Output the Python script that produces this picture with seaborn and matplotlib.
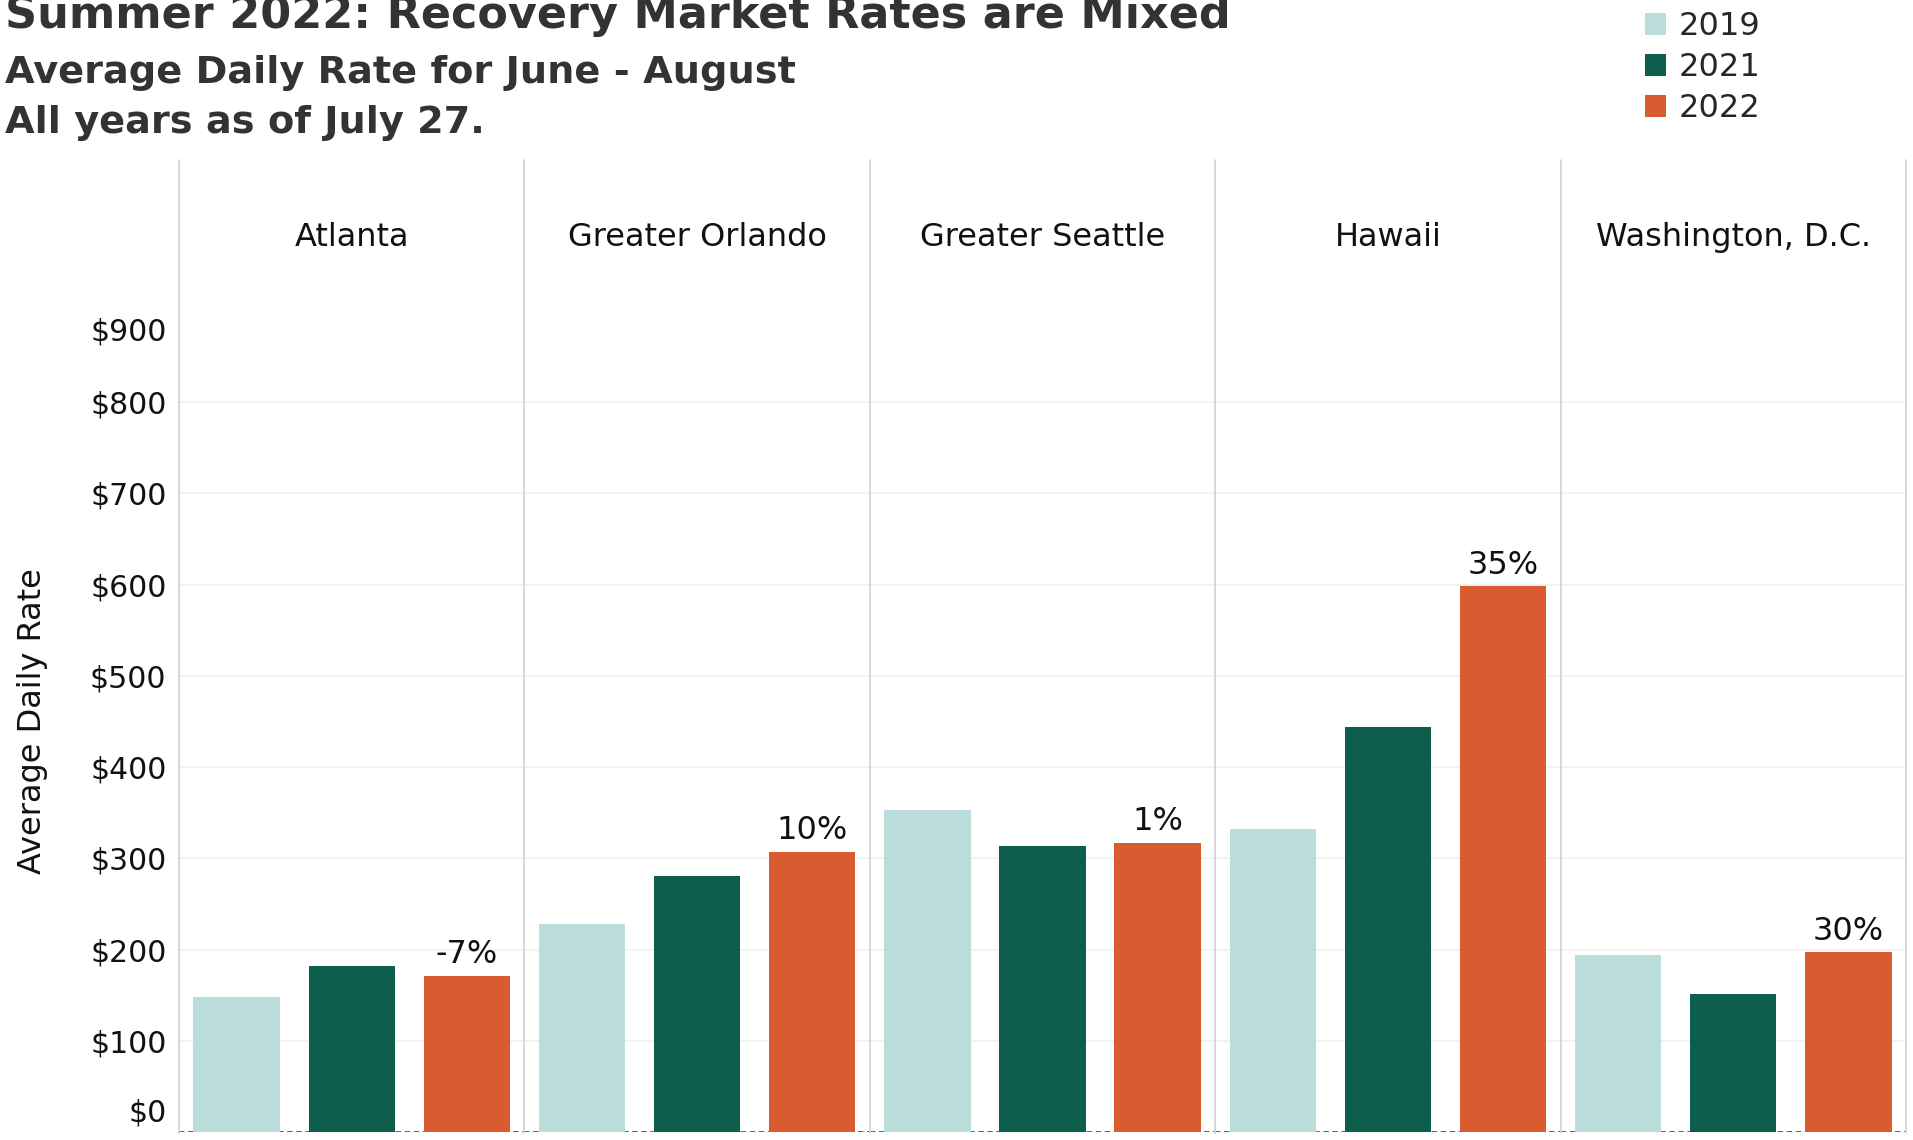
import matplotlib
matplotlib.use("Agg")
import matplotlib.pyplot as plt
from matplotlib.patches import Patch
from matplotlib.transforms import ScaledTranslation
import pandas as pd
import seaborn as sns

markets = ["Atlanta", "Greater Orlando", "Greater Seattle", "Hawaii", "Washington, D.C."]
years = ["2019", "2021", "2022"]
adr_2019 = [148, 228, 353, 332, 194]
adr_2021 = [182, 281, 313, 444, 151]
adr_2022 = [171, 307, 317, 598, 197]
change_labels = ["-7%", "10%", "1%", "35%", "30%"]
year_colors = ["#BBDEDD", "#0E5E4E", "#D95B32"]
y_ticks = [0, 100, 200, 300, 400, 500, 600, 700, 800, 900]

rows = []
for i, m in enumerate(markets):
    for y, vals in zip(years, [adr_2019, adr_2021, adr_2022]):
        rows.append({"Market": m, "Year": y, "ADR": vals[i]})
df = pd.DataFrame(rows)

sns.set_theme(style="white")
# the reference text is set wide, DejaVu Sans gets closest to it
plt.rcParams["font.family"] = ["DejaVu Sans"]

W, H = 1913, 1140
palette = dict(zip(years, year_colors))
fs = 21.5

g = sns.catplot(
    data=df, kind="bar", x="Year", y="ADR", hue="Year", col="Market",
    col_order=markets, order=years, hue_order=years, palette=palette,
    width=0.75, linewidth=0, saturation=1, legend=False, sharey=True,
    height=5, aspect=0.6,
)
fig = g.figure
fig.set_size_inches(W / 100, H / 100)
fig.subplots_adjust(left=179 / W, right=1906 / W, bottom=1 - 1132 / H,
                    top=1 - 311 / H, wspace=0)

ax_h = 1132 - 311
head = 151 / ax_h
line_c = "#D4D4D4"

for j, (ax, m) in enumerate(zip(g.axes.flat, markets)):
    ax.set_ylim(0, 900)
    ax.set_xlim(-0.5, 2.5)
    ax.set_title("")
    ax.set_xlabel("")
    ax.set_ylabel("")
    ax.set_xticks([])
    ax.set_yticks(y_ticks)
    for v in y_ticks[1:-1]:
        ax.axhline(v, color="#F0F0F0", lw=1.2, zorder=0)
    ax.axhline(0, color="#E6E6E6", lw=1, zorder=0.2)
    ax.axhline(0, color="#555555", lw=1.3, ls=(0, (3, 2)), zorder=0.5)
    for s in ["left", "right", "bottom"]:
        ax.spines[s].set_visible(False)
    ax.spines["top"].set_color("#D0D0D0")
    ax.spines["top"].set_linewidth(2)
    ax.plot([0, 0], [-0.001, 1 + head], transform=ax.transAxes, color=line_c,
            lw=1.3, clip_on=False)
    if j == len(markets) - 1:
        ax.plot([1, 1], [-0.001, 1 + head], transform=ax.transAxes, color=line_c,
                lw=1.3, clip_on=False)
    ax.text(0.5, 1 + 74 / ax_h, m, transform=ax.transAxes, ha="center",
            va="center", fontsize=23, color="#111111")
    bars = ax.containers[-1]
    ax.bar_label(bars, labels=[change_labels[j]], padding=4, fontsize=23,
                 color="#111111")
    ax.tick_params(axis="y", length=0, pad=9, labelsize=fs, labelcolor="#111111")

ax0 = g.axes.flat[0]
ax0.set_yticklabels([f"${v}" for v in y_ticks])
tl = ax0.get_yticklabels()
# end labels are pulled inside the pane like in the original
tl[0].set_transform(tl[0].get_transform() + ScaledTranslation(0, 22 / 100, fig.dpi_scale_trans))
tl[-1].set_transform(tl[-1].get_transform() + ScaledTranslation(0, -18 / 100, fig.dpi_scale_trans))

fig.text(33 / W, 1 - 721 / H, "Average Daily Rate", rotation=90, ha="center",
         va="center", fontsize=23, color="#111111")

fig.text(5 / W, 1 - 28 / H, "Summer 2022: Recovery Market Rates are Mixed",
         fontsize=32, fontweight="bold", color="#333333", va="baseline")
fig.text(5 / W, 1 - 83 / H, "Average Daily Rate for June - August",
         fontsize=27.5, fontweight="bold", color="#333333", va="baseline")
fig.text(5 / W, 1 - 133 / H, "All years as of July 27.",
         fontsize=27.5, fontweight="bold", color="#333333", va="baseline")

handles = [Patch(facecolor=c, edgecolor="none") for c in year_colors]
fig.legend(handles, years, loc="upper left", bbox_to_anchor=(1645 / W, 1 - 11 / H),
           frameon=False, fontsize=23, handlelength=0.66, handleheight=0.66,
           handletextpad=0.4, labelspacing=0.32, borderpad=0, borderaxespad=0)

fig.savefig("out.png", dpi=100, facecolor="white")
